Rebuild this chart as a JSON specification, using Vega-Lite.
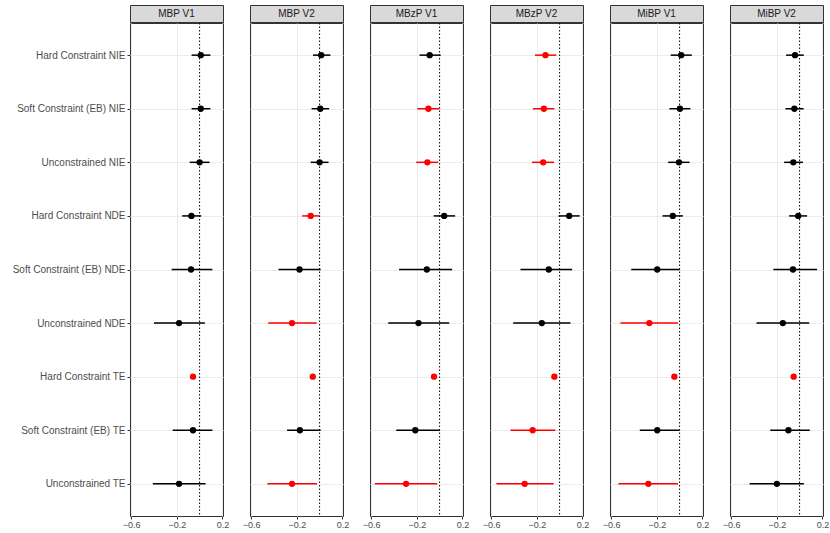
{
  "$schema": "https://vega.github.io/schema/vega-lite/v6.json",
  "padding": {"left": 12, "top": 4, "right": 5, "bottom": 5},
  "background": "white",
  "config": {
    "font": "Liberation Sans",
    "axis": {"labelFont": "Liberation Sans", "labelFontSize": 9, "labelColor": "#4D4D4D", "tickColor": "#333333", "tickSize": 3, "domain": false, "gridColor": "#EBEBEB", "title": null},
    "header": {"labels": false, "title": null, "labelPadding": 0, "titlePadding": 0}
  },
  "spacing": -2,
  "datasets": {
    "strips": [
      {"panel": "MBP V1"}, {"panel": "MBP V2"}, {"panel": "MBzP V1"},
      {"panel": "MBzP V2"}, {"panel": "MiBP V1"}, {"panel": "MiBP V2"}
    ],
    "est": [
      {"panel": "MBP V1", "label": "Hard Constraint NIE", "est": 0.01, "lo": -0.07, "hi": 0.095, "sig": "no"},
      {"panel": "MBP V1", "label": "Soft Constraint (EB) NIE", "est": 0.01, "lo": -0.07, "hi": 0.095, "sig": "no"},
      {"panel": "MBP V1", "label": "Unconstrained NIE", "est": 0.0, "lo": -0.087, "hi": 0.087, "sig": "no"},
      {"panel": "MBP V1", "label": "Hard Constraint NDE", "est": -0.072, "lo": -0.153, "hi": 0.014, "sig": "no"},
      {"panel": "MBP V1", "label": "Soft Constraint (EB) NDE", "est": -0.075, "lo": -0.245, "hi": 0.112, "sig": "no"},
      {"panel": "MBP V1", "label": "Unconstrained NDE", "est": -0.18, "lo": -0.4, "hi": 0.046, "sig": "no"},
      {"panel": "MBP V1", "label": "Hard Constraint TE", "est": -0.058, "lo": -0.075, "hi": -0.042, "sig": "yes"},
      {"panel": "MBP V1", "label": "Soft Constraint (EB) TE", "est": -0.058, "lo": -0.236, "hi": 0.112, "sig": "no"},
      {"panel": "MBP V1", "label": "Unconstrained TE", "est": -0.18, "lo": -0.41, "hi": 0.052, "sig": "no"},

      {"panel": "MBP V2", "label": "Hard Constraint NIE", "est": 0.014, "lo": -0.058, "hi": 0.095, "sig": "no"},
      {"panel": "MBP V2", "label": "Soft Constraint (EB) NIE", "est": 0.006, "lo": -0.07, "hi": 0.084, "sig": "no"},
      {"panel": "MBP V2", "label": "Unconstrained NIE", "est": 0.0, "lo": -0.078, "hi": 0.078, "sig": "no"},
      {"panel": "MBP V2", "label": "Hard Constraint NDE", "est": -0.078, "lo": -0.153, "hi": -0.003, "sig": "yes"},
      {"panel": "MBP V2", "label": "Soft Constraint (EB) NDE", "est": -0.176, "lo": -0.36, "hi": 0.009, "sig": "no"},
      {"panel": "MBP V2", "label": "Unconstrained NDE", "est": -0.242, "lo": -0.45, "hi": -0.026, "sig": "yes"},
      {"panel": "MBP V2", "label": "Hard Constraint TE", "est": -0.06, "lo": -0.075, "hi": -0.045, "sig": "yes"},
      {"panel": "MBP V2", "label": "Soft Constraint (EB) TE", "est": -0.173, "lo": -0.285, "hi": 0.009, "sig": "no"},
      {"panel": "MBP V2", "label": "Unconstrained TE", "est": -0.242, "lo": -0.458, "hi": -0.023, "sig": "yes"},

      {"panel": "MBzP V1", "label": "Hard Constraint NIE", "est": -0.087, "lo": -0.176, "hi": 0.009, "sig": "no"},
      {"panel": "MBzP V1", "label": "Soft Constraint (EB) NIE", "est": -0.098, "lo": -0.196, "hi": -0.003, "sig": "yes"},
      {"panel": "MBzP V1", "label": "Unconstrained NIE", "est": -0.107, "lo": -0.205, "hi": -0.012, "sig": "yes"},
      {"panel": "MBzP V1", "label": "Hard Constraint NDE", "est": 0.04, "lo": -0.052, "hi": 0.136, "sig": "no"},
      {"panel": "MBzP V1", "label": "Soft Constraint (EB) NDE", "est": -0.112, "lo": -0.355, "hi": 0.11, "sig": "no"},
      {"panel": "MBzP V1", "label": "Unconstrained NDE", "est": -0.185, "lo": -0.45, "hi": 0.084, "sig": "no"},
      {"panel": "MBzP V1", "label": "Hard Constraint TE", "est": -0.049, "lo": -0.065, "hi": -0.033, "sig": "yes"},
      {"panel": "MBzP V1", "label": "Soft Constraint (EB) TE", "est": -0.213, "lo": -0.38, "hi": 0.003, "sig": "no"},
      {"panel": "MBzP V1", "label": "Unconstrained TE", "est": -0.294, "lo": -0.568, "hi": -0.02, "sig": "yes"},

      {"panel": "MBzP V2", "label": "Hard Constraint NIE", "est": -0.124, "lo": -0.216, "hi": -0.029, "sig": "yes"},
      {"panel": "MBzP V2", "label": "Soft Constraint (EB) NIE", "est": -0.138, "lo": -0.234, "hi": -0.046, "sig": "yes"},
      {"panel": "MBzP V2", "label": "Unconstrained NIE", "est": -0.144, "lo": -0.242, "hi": -0.049, "sig": "yes"},
      {"panel": "MBzP V2", "label": "Hard Constraint NDE", "est": 0.084, "lo": -0.009, "hi": 0.176, "sig": "no"},
      {"panel": "MBzP V2", "label": "Soft Constraint (EB) NDE", "est": -0.095, "lo": -0.343, "hi": 0.11, "sig": "no"},
      {"panel": "MBzP V2", "label": "Unconstrained NDE", "est": -0.156, "lo": -0.407, "hi": 0.095, "sig": "no"},
      {"panel": "MBzP V2", "label": "Hard Constraint TE", "est": -0.046, "lo": -0.062, "hi": -0.03, "sig": "yes"},
      {"panel": "MBzP V2", "label": "Soft Constraint (EB) TE", "est": -0.236, "lo": -0.43, "hi": -0.037, "sig": "yes"},
      {"panel": "MBzP V2", "label": "Unconstrained TE", "est": -0.306, "lo": -0.554, "hi": -0.052, "sig": "yes"},

      {"panel": "MiBP V1", "label": "Hard Constraint NIE", "est": 0.014, "lo": -0.078, "hi": 0.107, "sig": "no"},
      {"panel": "MiBP V1", "label": "Soft Constraint (EB) NIE", "est": 0.003, "lo": -0.089, "hi": 0.095, "sig": "no"},
      {"panel": "MiBP V1", "label": "Unconstrained NIE", "est": -0.006, "lo": -0.1, "hi": 0.087, "sig": "no"},
      {"panel": "MiBP V1", "label": "Hard Constraint NDE", "est": -0.06, "lo": -0.15, "hi": 0.029, "sig": "no"},
      {"panel": "MiBP V1", "label": "Soft Constraint (EB) NDE", "est": -0.196, "lo": -0.424, "hi": 0.0, "sig": "no"},
      {"panel": "MiBP V1", "label": "Unconstrained NDE", "est": -0.265, "lo": -0.519, "hi": -0.014, "sig": "yes"},
      {"panel": "MiBP V1", "label": "Hard Constraint TE", "est": -0.046, "lo": -0.062, "hi": -0.03, "sig": "yes"},
      {"panel": "MiBP V1", "label": "Soft Constraint (EB) TE", "est": -0.196, "lo": -0.349, "hi": 0.0, "sig": "no"},
      {"panel": "MiBP V1", "label": "Unconstrained TE", "est": -0.274, "lo": -0.536, "hi": -0.014, "sig": "yes"},

      {"panel": "MiBP V2", "label": "Hard Constraint NIE", "est": -0.04, "lo": -0.118, "hi": 0.037, "sig": "no"},
      {"panel": "MiBP V2", "label": "Soft Constraint (EB) NIE", "est": -0.046, "lo": -0.124, "hi": 0.035, "sig": "no"},
      {"panel": "MiBP V2", "label": "Unconstrained NIE", "est": -0.055, "lo": -0.136, "hi": 0.029, "sig": "no"},
      {"panel": "MiBP V2", "label": "Hard Constraint NDE", "est": -0.012, "lo": -0.092, "hi": 0.066, "sig": "no"},
      {"panel": "MiBP V2", "label": "Soft Constraint (EB) NDE", "est": -0.058, "lo": -0.23, "hi": 0.153, "sig": "no"},
      {"panel": "MiBP V2", "label": "Unconstrained NDE", "est": -0.147, "lo": -0.378, "hi": 0.084, "sig": "no"},
      {"panel": "MiBP V2", "label": "Hard Constraint TE", "est": -0.052, "lo": -0.068, "hi": -0.036, "sig": "yes"},
      {"panel": "MiBP V2", "label": "Soft Constraint (EB) TE", "est": -0.098, "lo": -0.257, "hi": 0.089, "sig": "no"},
      {"panel": "MiBP V2", "label": "Unconstrained TE", "est": -0.199, "lo": -0.438, "hi": 0.037, "sig": "no"}
    ]
  },
  "vconcat": [
    {
      "data": {"name": "strips"},
      "bounds": "flush",
      "facet": {"column": {"field": "panel", "sort": ["MBP V1", "MBP V2", "MBzP V1", "MBzP V2", "MiBP V1", "MiBP V2"], "header": {"labels": false, "title": null}}},
      "spacing": 27,
      "spec": {
        "width": 93,
        "height": 17,
        "view": {"fill": "#D9D9D9", "stroke": "#333333", "strokeWidth": 1},
        "mark": {"type": "text", "fontSize": 10, "color": "#1A1A1A", "font": "Liberation Sans", "baseline": "middle", "align": "center"},
        "encoding": {"text": {"field": "panel"}}
      }
    },
    {
      "data": {"name": "est"},
      "bounds": "flush",
      "facet": {"column": {"field": "panel", "sort": ["MBP V1", "MBP V2", "MBzP V1", "MBzP V2", "MiBP V1", "MiBP V2"], "header": {"labels": false, "title": null}}},
      "spacing": 27,
      "spec": {
        "width": 93,
        "height": 493,
        "view": {"fill": "white", "stroke": "#333333", "strokeWidth": 1},
        "encoding": {
          "y": {
            "field": "label", "type": "nominal",
            "sort": ["Hard Constraint NIE", "Soft Constraint (EB) NIE", "Unconstrained NIE", "Hard Constraint NDE", "Soft Constraint (EB) NDE", "Unconstrained NDE", "Hard Constraint TE", "Soft Constraint (EB) TE", "Unconstrained TE"],
            "scale": {"type": "point", "padding": 0.6},
            "axis": {"grid": true, "gridColor": "#EBEBEB", "gridWidth": 1, "labelPadding": 2, "labelFontSize": 10}
          }
        },
        "layer": [
          {
            "mark": {"type": "rule", "strokeWidth": 1.5},
            "encoding": {
              "x": {
                "field": "lo", "type": "quantitative",
                "scale": {"domain": [-0.61, 0.205], "nice": false, "zero": false},
                "axis": {
                  "values": [-0.6, -0.5, -0.4, -0.3, -0.2, -0.1, 0, 0.1, 0.2],
                  "labelExpr": "abs(round(datum.value*10)) % 2 == 0 ? format(datum.value, '.1f') : ''",
                  "tickOpacity": {"condition": {"test": "abs(round(datum.value*10)) % 2 == 0", "value": 1}, "value": 0},
                  "gridWidth": {"condition": {"test": "abs(round(datum.value*10)) % 2 == 0", "value": 1}, "value": 0.6},
                  "grid": true,
                  "labelPadding": 1,
                  "labelFlush": false,
                  "labelOverlap": false
                }
              },
              "x2": {"field": "hi"},
              "color": {"field": "sig", "type": "nominal", "scale": {"domain": ["no", "yes"], "range": ["#000000", "#FF0000"]}, "legend": null}
            }
          },
          {
            "transform": [{"filter": "datum.label == 'Hard Constraint NIE'"}],
            "mark": {"type": "rule", "strokeDash": [1.5, 2], "strokeWidth": 1, "color": "#000000"},
            "encoding": {"x": {"datum": 0, "type": "quantitative"}, "y": null}
          },
          {
            "mark": {"type": "point", "filled": true, "opacity": 1, "size": 40},
            "encoding": {
              "x": {"field": "est", "type": "quantitative"},
              "color": {"field": "sig", "type": "nominal", "legend": null}
            }
          }
        ]
      }
    }
  ]
}
